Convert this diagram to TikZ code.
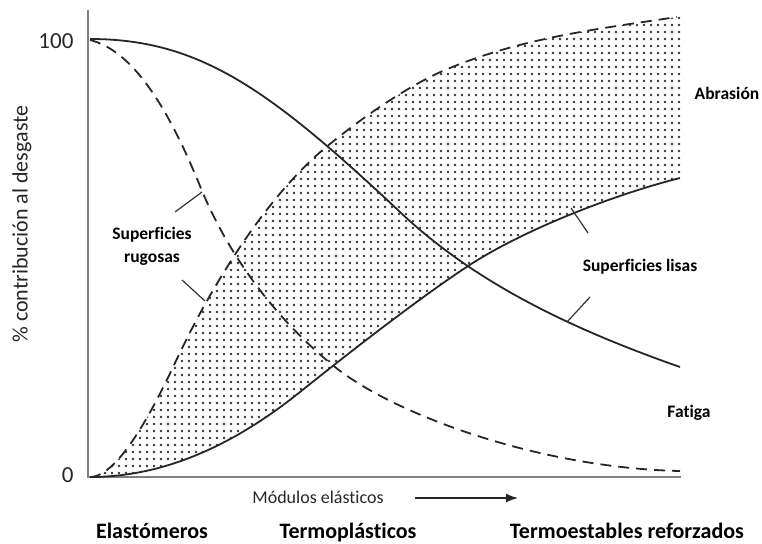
\documentclass[tikz,border=0pt]{standalone}
\usepackage{fontspec}
\setmainfont{Carlito}[Ligatures=NoCommon]
\usetikzlibrary{patterns.meta, arrows.meta}

\begin{document}
\begin{tikzpicture}[x=1pt, y=-1pt,
  curve/.style={line width=1.8pt, black!85},
  dashcurve/.style={curve, dash pattern=on 11pt off 7pt},
  leader/.style={line width=1.2pt, black!80},
  axis/.style={line width=2.2pt, black!50},
  tag/.style={font=\fontsize{17.5}{23}\selectfont\bfseries, align=center},
  group/.style={font=\fontsize{22}{26}\selectfont\bfseries, anchor=base},
  plain/.style={font=\fontsize{18}{22}\selectfont, black!85}]

\useasboundingbox (0,0) rectangle (762,543);

\fill [pattern={Dots[distance=7pt, radius=1.3pt]}, pattern color=black!80]
  (90,477) .. controls (120,477) and (158,399) .. (175,363)
  .. controls (210,288) and (265,198) .. (325,148)
  .. controls (365,115) and (410,85) .. (445,70)
  .. controls (520,38.5) and (590,30) .. (677,17)
  -- (684,16) -- (684,178) -- (680,178)
  .. controls (620,193) and (525,228) .. (465,268)
  .. controls (420,298) and (360,344) .. (300,392)
  .. controls (240,440) and (170,477) .. (90,477)
  -- cycle;

\coordinate (o) at (88,477);
\coordinate (ytop) at (88,10);
\coordinate (xend) at (681,477);
\draw [axis] (ytop) -- (o) -- (xend);

\draw [curve] (90,39) .. controls (200,39) and (270,90) .. (400,212)
  .. controls (470,278) and (560,325) .. (680,367);
\draw [dashcurve] (90,40) .. controls (130,50) and (165,100) .. (200,186)
  .. controls (230,260) and (280,323) .. (335,367)
  .. controls (395,415) and (540,468) .. (680,471);
\draw [dashcurve] (90,477) .. controls (120,477) and (158,399) .. (175,363)
  .. controls (210,288) and (265,198) .. (325,148)
  .. controls (365,115) and (410,85) .. (445,70)
  .. controls (520,38.5) and (590,30) .. (677,17);
\draw [curve] (90,477) .. controls (170,477) and (240,440) .. (300,392)
  .. controls (360,344) and (420,298) .. (465,268)
  .. controls (525,228) and (620,193) .. (680,178);

\node (n100) [plain, anchor=east, font=\fontsize{23}{26}\selectfont] at (77,41) {100};
\node (n0) [plain, anchor=east, font=\fontsize{23}{26}\selectfont] at (77,475) {0};
\node (ylab) [plain, rotate=90, font=\fontsize{22}{26}\selectfont] at (22,224) {\% contribución al desgaste};

\node (rug) [tag] at (152,246) {Superficies\\rugosas};
\coordinate (rug1) at (175,212);
\coordinate (rugc1) at (202,192);
\coordinate (rug2) at (182,280);
\coordinate (rugc2) at (205,301);
\draw [leader] (rug1) -- (rugc1);
\draw [leader] (rug2) -- (rugc2);

\node (lis) [tag] at (640,267) {Superficies lisas};
\coordinate (lis1) at (588,233);
\coordinate (lisc1) at (571,208);
\coordinate (lis2) at (590,297);
\coordinate (lisc2) at (567,322);
\draw [leader] (lis1) -- (lisc1);
\draw [leader] (lis2) -- (lisc2);

\node (abr) [tag] at (727,93) {Abrasión};
\node (fat) [tag] at (689,413) {Fatiga};

\node (mod) [plain, anchor=base] at (318,503) {Módulos elásticos};
\coordinate (arrowend) at (518,498);
\draw [-{Latex[length=12pt, width=9pt]}, line width=1.3pt, black!85] ([xshift=28pt]mod.east |- arrowend) -- (arrowend);

\node (ela) [group] at (152,538) {Elastómeros};
\node (ter) [group] at (348,538) {Termoplásticos};
\node (tef) [group] at (627,538) {Termoestables reforzados};

\end{tikzpicture}
\end{document}
